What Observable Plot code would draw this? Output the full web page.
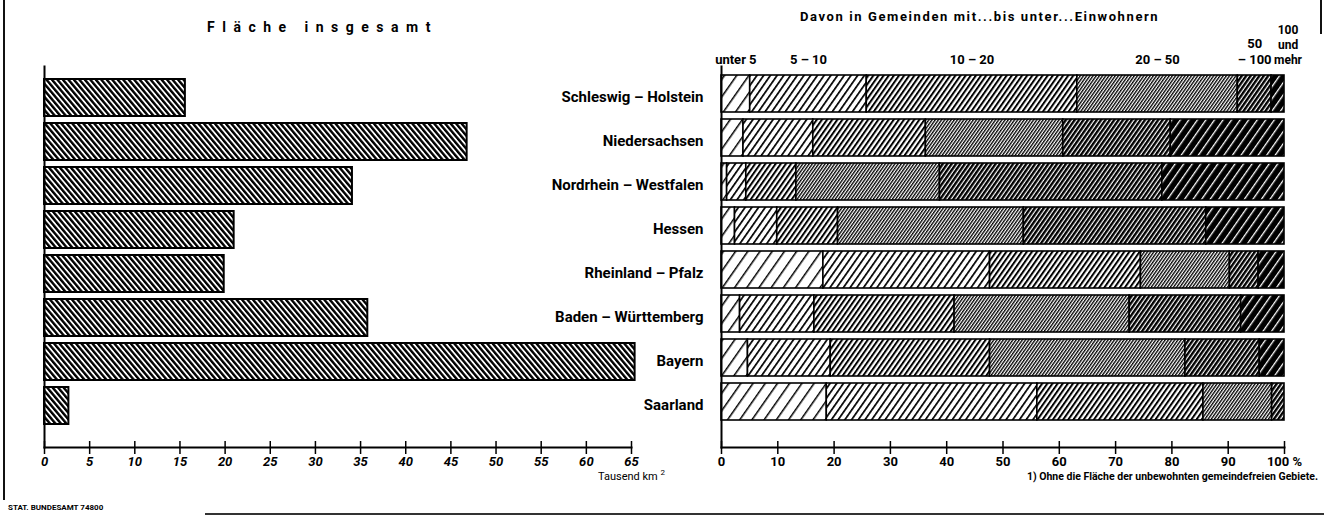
<!DOCTYPE html>
<html>
<head>
<meta charset="utf-8">
<script src="https://cdn.jsdelivr.net/npm/d3@7"></script>
<script src="https://cdn.jsdelivr.net/npm/@observablehq/plot@0.6"></script>
<style>
  html, body { margin: 0; padding: 0; background: #fff; }
  #page { position: relative; width: 1324px; height: 519px; overflow: hidden; background: #fff;
          font-family: Roboto, "Liberation Sans", sans-serif; font-weight: bold; color: #000; }
  #page svg { position: absolute; top: 0; }
  .t { position: absolute; white-space: nowrap; }
  .line { position: absolute; background: #111; }
</style>
</head>
<body>
<div id="page">
  <div class="line" style="left:3px;top:0;width:2px;height:500px;"></div>
  <div class="line" style="left:205px;top:513px;width:1119px;height:2px;background:#333;"></div>
  <div class="line" style="left:1320px;top:0;width:2px;height:34px;"></div>
  <div class="t" style="left:207px;top:19px;font-size:14px;letter-spacing:7.5px;">Fläche insgesamt</div>
  <div class="t" style="left:800px;top:9px;font-size:13px;letter-spacing:1.6px;">Davon in Gemeinden mit...bis unter...Einwohnern</div>
  <div class="t" style="left:598px;top:468px;font-size:11px;font-weight:normal;">Tausend km <sup style="font-size:8px;">2</sup></div>
  <div class="t" style="right:6px;top:470px;font-size:10.5px;">1) Ohne die Fläche der unbewohnten gemeindefreien Gebiete.</div>
  <div class="t" style="left:8px;top:503px;font-size:8px;">STAT. BUNDESAMT 74800</div>
</div>
<script>
// ---------- data ----------
const states = ["Schleswig – Holstein", "Niedersachsen", "Nordrhein – Westfalen", "Hessen",
                "Rheinland – Pfalz", "Baden – Württemberg", "Bayern", "Saarland"];
const areaThousandKm2 = [15.6, 46.8, 34.1, 21.0, 19.9, 35.8, 65.4, 2.7];
const leftTicks = [0, 5, 10, 15, 20, 25, 30, 35, 40, 45, 50, 55, 60, 65];

const categories = ["unter 5", "5 – 10", "10 – 20", "20 – 50", "50 – 100", "100 und mehr"];
const headerLabels = ["unter 5", "5 – 10", "10 – 20", "20 – 50", "50\n– 100", "100\nund\nmehr"];
const shareSH  = [5.1, 20.7, 37.4, 28.5, 6.0, 2.3];
const shareNS  = [3.9, 12.4, 20.0, 24.4, 19.1, 20.2];
const shareNRW = [1.0, 3.4, 8.9, 25.5, 39.5, 21.7];
const shareHE  = [2.4, 7.5, 10.8, 33.0, 32.4, 13.9];
const shareRP  = [18.1, 29.6, 26.8, 15.8, 5.1, 4.6];
const shareBW  = [3.3, 13.2, 24.9, 31.1, 19.8, 7.7];
const shareBY  = [4.7, 14.7, 28.3, 34.7, 13.2, 4.4];
const shareSL  = [18.7, 37.4, 29.5, 12.2, 2.2, 0];
const rightTicks = [0, 10, 20, 30, 40, 50, 60, 70, 80, 90, 100];

// ---------- tables ----------
const shares = [shareSH, shareNS, shareNRW, shareHE, shareRP, shareBW, shareBY, shareSL];
const areaRows = states.map((s, i) => ({state: s, area: areaThousandKm2[i]}));
const shareRows = states.flatMap((s, i) => categories.map((c, j) => ({state: s, cat: c, value: shares[i][j]})));
let cum = 0;
const headerRows = categories.map((c, j) => {
  const start = cum; cum += shareSH[j];
  return {label: headerLabels[j], x: (start + cum) / 2, last: j === categories.length - 1};
});

const FONT = 'Roboto, "Liberation Sans", sans-serif';
const STYLE = `font-family: ${FONT}; font-weight: bold; font-size: 13px; background: transparent; overflow: visible;`;
const H = 519, MT = 66, MB = 72, FH = H - MT - MB;

function addHatches(svg, specs) {
  const defs = d3.select(svg).insert("defs", ":first-child");
  for (const [id, spacing, thick, angle, color, bg] of specs) {
    const p = defs.append("pattern").attr("id", id).attr("patternUnits", "userSpaceOnUse")
      .attr("width", spacing).attr("height", spacing).attr("patternTransform", `rotate(${angle})`);
    p.append("rect").attr("width", spacing).attr("height", spacing).attr("fill", bg);
    p.append("rect").attr("width", thick).attr("height", spacing).attr("fill", color);
  }
}

// ---------- left chart ----------
const left = Plot.plot({
  width: 700, height: H,
  marginLeft: 44, marginRight: 69, marginTop: MT, marginBottom: MB,
  style: STYLE,
  x: {domain: [0, 65]},
  y: {domain: states, range: [71, 431], padding: 0.17, axis: null},
  marks: [
    Plot.barX(areaRows, {x: "area", y: "state", fill: "url(#hL)", stroke: "black", strokeWidth: 2}),
    Plot.frame({anchor: "left", strokeWidth: 2}),
    Plot.frame({anchor: "bottom", strokeWidth: 2}),
    Plot.ruleX(leftTicks, {insetTop: FH - 6, insetBottom: -7, strokeWidth: 1.5}),
    Plot.axisX({ticks: leftTicks, tickSize: 0, tickPadding: 9, label: null, fontStyle: "italic"})
  ]
});
addHatches(left, [["hL", 4.2, 2.4, -40, "black", "white"]]);
left.style.left = "0px";
document.getElementById("page").append(left);

// ---------- right chart ----------
const right = Plot.plot({
  width: 804, height: H,
  marginLeft: 201, marginRight: 40, marginTop: MT, marginBottom: MB,
  style: STYLE,
  x: {domain: [0, 100]},
  y: {domain: states, range: [66.4, 428.6], padding: 0.16},
  color: {domain: categories, range: categories.map((c, i) => `url(#p${i})`)},
  marks: [
    Plot.barX(shareRows, Plot.stackX({x: "value", y: "state", fill: "cat", order: null,
      stroke: "black", strokeWidth: 1.6})),
    Plot.frame({anchor: "left", strokeWidth: 2}),
    Plot.frame({anchor: "bottom", strokeWidth: 2}),
    Plot.ruleX(rightTicks, {insetTop: FH - 6, insetBottom: -7, strokeWidth: 1.5}),
    Plot.axisX({ticks: rightTicks, tickSize: 0, tickPadding: 9, label: null,
      tickFormat: d => d === 100 ? "100 %" : String(d)}),
    Plot.axisY({anchor: "left", tickSize: 0, tickPadding: 18, label: null, fontSize: 15, dy: 3}),
    Plot.text(headerRows.filter(d => !d.last), {x: "x", text: "label", frameAnchor: "top", lineAnchor: "bottom",
      dy: -3, fontSize: 13, lineHeight: 1.2}),
    Plot.text(headerRows.filter(d => d.last), {x: "x", text: "label", frameAnchor: "top", lineAnchor: "bottom",
      dy: -3, dx: 10, fontSize: 12, lineHeight: 1.25})
  ]
});
addHatches(right, [
  ["p0", 10, 1.5, 35, "black", "white"],
  ["p1", 5.5, 1.7, 35, "black", "white"],
  ["p2", 4.2, 2.0, 35, "black", "white"],
  ["p3", 2.6, 1.35, 35, "black", "white"],
  ["p4", 3.6, 2.4, 35, "black", "white"],
  ["p5", 7, 1.3, 35, "white", "black"]
]);
right.style.left = "520px";
document.getElementById("page").append(right);
</script>
</body>
</html>
